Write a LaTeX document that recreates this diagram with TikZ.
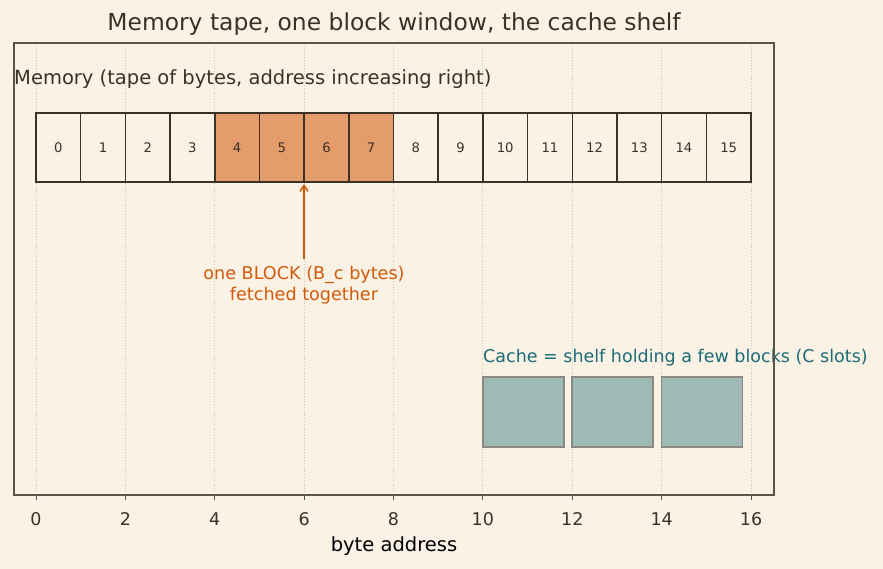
\documentclass[tikz,border=0pt]{standalone}
\usepackage{fontspec}
\setmainfont{DejaVu Sans}
\usetikzlibrary{arrows.meta}
\definecolor{bg}{HTML}{FAF2E4}
\definecolor{frame}{HTML}{5E5445}
\definecolor{ink}{HTML}{3B3129}
\definecolor{blockfill}{HTML}{E59C6B}
\definecolor{blockink}{HTML}{D25A0C}
\definecolor{teal}{HTML}{1D6C78}
\definecolor{cachefill}{HTML}{9FBAB6}
\definecolor{cacheedge}{HTML}{8A8A82}
\definecolor{gridc}{HTML}{CFC6B6}
\tikzset{
  cell/.style={draw=ink, line width=1.5pt, minimum width=44.69pt, minimum height=69pt, inner sep=0pt, font=\fontsize{13.2}{13.2}\selectfont, text=ink, fill=bg},
  hot/.style={cell, fill=blockfill},
  slot/.style={draw=cacheedge, line width=1.2pt, fill=cachefill, minimum width=81pt, minimum height=70pt, inner sep=0pt},
  gridline/.style={gridc, line width=0.8pt, dotted},
  tick/.style={frame, line width=1pt},
  ticklabel/.style={font=\fontsize{17.5}{17.5}\selectfont, text=ink},
}
\begin{document}
\begin{tikzpicture}[x=1pt, y=-1pt]
\useasboundingbox[fill=bg] (0,0) rectangle (883,569);
% grid
\foreach \d in {0,2,...,16}{
  \draw[gridline] ({36+44.6875*\d},43) -- ({36+44.6875*\d},495);
}
% title
\node[font=\fontsize{23.4}{23.4}\selectfont, text=ink] (title) at (394,24) {Memory tape, one block window, the cache shelf};
% memory label
\node[font=\fontsize{19.5}{19.5}\selectfont, text=ink, anchor=west, inner sep=0pt] (memlbl) at (14,79) {Memory (tape of bytes, address increasing right)};
% cells
\foreach \i in {0,...,15}{
  \pgfmathsetmacro{\cx}{36+44.6875*(\i+0.5)}
  \ifnum\i<4
    \node[cell] (c\i) at (\cx,147.5) {\i};
  \else\ifnum\i<8
    \node[hot] (c\i) at (\cx,147.5) {\i};
  \else
    \node[cell] (c\i) at (\cx,147.5) {\i};
  \fi\fi
}
% block annotation
\node[font=\fontsize{17.6}{21}\selectfont, text=blockink, align=center] (blk) at (304,285) {one BLOCK (B\_c bytes)\\fetched together};
\coordinate (tip) at (304,184);
\coordinate (tail) at (304,259);
\draw[blockink, line width=1.5pt, -{Straight Barb[length=6pt,width=8pt]}] (tail) -- (tip);
% cache
\node[font=\fontsize{17.5}{17.5}\selectfont, text=teal, anchor=west, inner sep=0pt] (cachelbl) at (483,358) {Cache = shelf holding a few blocks (C slots)};
\node[slot] (s0) at (523.5,412) {};
\node[slot] (s1) at (612.5,412) {};
\node[slot] (s2) at (702,412) {};
% axes frame
\draw[frame, line width=1.3pt] (14,43) rectangle (774,495);
% ticks
\foreach \d in {0,2,...,16}{
  \draw[tick] ({36+44.6875*\d},495) -- ({36+44.6875*\d},500);
  \node[ticklabel] (t\d) at ({36+44.6875*\d},519) {\d};
}
\node[font=\fontsize{19.5}{19.5}\selectfont, text=black] (xlabel) at (394,546) {byte address};
\end{tikzpicture}
\end{document}
